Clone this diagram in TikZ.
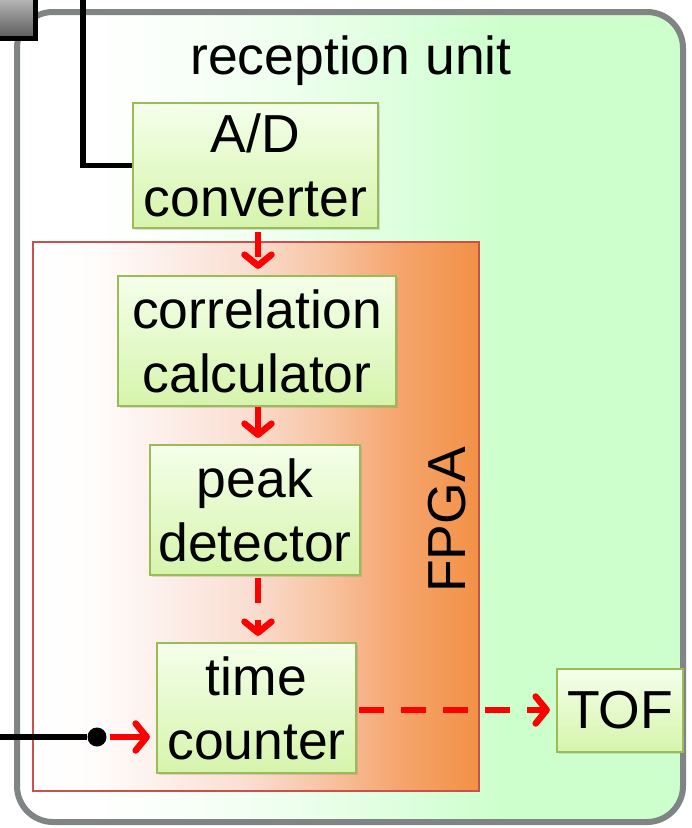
\documentclass[tikz,border=0pt]{standalone}
\usepackage{fontspec}
\setmainfont{Liberation Sans}
\usetikzlibrary{arrows.meta,shadows}
\definecolor{unitgreen}{RGB}{204,255,204}
\definecolor{unitgray}{RGB}{128,132,132}
\definecolor{boxtop}{RGB}{244,255,234}
\definecolor{boxbot}{RGB}{214,244,172}
\definecolor{boxedge}{RGB}{155,187,89}
\definecolor{fpgaedge}{RGB}{200,80,77}
\definecolor{fpgapink}{RGB}{250,222,210}
\definecolor{fpgamid}{RGB}{247,195,160}
\definecolor{fpgaor}{RGB}{245,165,110}
\definecolor{fpgaor2}{RGB}{242,145,70}
\definecolor{grayboxb}{RGB}{90,90,90}
\pgfdeclarehorizontalshading{fpgashade}{100bp}{color(0bp)=(white); color(25bp)=(white); color(32bp)=(white!93!fpgapink); color(49bp)=(fpgapink); color(58bp)=(fpgamid); color(66bp)=(fpgaor); color(75bp)=(fpgaor2); color(100bp)=(fpgaor2)}
\pgfdeclarehorizontalshading{unitshade}{100bp}{color(0bp)=(white); color(25bp)=(white); color(34bp)=(white!96!unitgreen); color(46bp)=(white!65!unitgreen); color(62bp)=(unitgreen); color(100bp)=(unitgreen)}
\tikzset{
  bigfont/.style={font=\fontsize{53.5}{64}\selectfont},
  box/.style={bigfont, draw=boxedge, line width=2.2pt, top color=boxtop, bottom color=boxbot,
    align=center, inner sep=0pt, drop shadow={opacity=0.25, shadow xshift=2pt, shadow yshift=-2pt}},
  redarr/.style={draw=red, line width=6.5pt, -{Straight Barb[length=11pt,width=27pt,round]}},
  reddash/.style={redarr, dash pattern=on 25pt off 17pt},
  blk/.style={draw=black, line width=5.5pt},
}
\begin{document}
\begin{tikzpicture}[x=1pt,y=-1pt]
\useasboundingbox (0,0) rectangle (692,828);
% outer reception unit
\node[draw=unitgray, line width=6pt, rounded corners=36pt, shading=unitshade,
  minimum width=666pt, minimum height=810pt, inner sep=0pt] (unit) at (350,417) {};
\node[bigfont, anchor=base] (title) at (351,74) {reception unit};
% top-left gray box
\node[draw=black, line width=5pt, top color=white, bottom color=grayboxb, minimum width=80pt, minimum height=70pt, inner sep=0pt] (grayb) at (-5,3) {};
% FPGA
\node[draw=fpgaedge, line width=2pt, shading=fpgashade, minimum width=446pt, minimum height=549pt, inner sep=0pt] (fpga) at (256,516.5) {};
\node[bigfont, rotate=90] (fpgalbl) at (447,520) {FPGA};
% boxes
\node[box, minimum width=245pt, minimum height=125pt] (ad) at (255.5,165.5) {A/D\\converter};
\node[box, minimum width=278pt, minimum height=130pt] (corr) at (257,341) {correlation\\calculator};
\node[box, minimum width=210pt, minimum height=130pt] (peak) at (255,510) {peak\\detector};
\node[box, minimum width=199pt, minimum height=130pt] (time) at (256.5,708) {time\\counter};
\node[box, minimum width=126pt, minimum height=83pt] (tof) at (620,710.5) {TOF};
% black input lines
\coordinate (topin) at (83,-5);
\draw[blk] (topin) |- (ad.west);
\coordinate (leftin) at (-5,737);
\node[circle, fill=black, inner sep=0pt, minimum size=19pt] (dot) at (97,737) {};
\draw[blk] (leftin) -- (dot);
\draw[redarr, shorten <=3pt, shorten >=6pt] (dot) -- (time.west |- dot);
% red arrows
\draw[reddash, shorten <=3pt, shorten >=6pt] (ad.south -| 258,0) -- (corr.north -| 258,0);
\draw[redarr, shorten >=6pt] (corr.south -| 258,0) -- (peak.north -| 258,0);
\draw[reddash, shorten <=2pt, shorten >=6pt] (peak.south -| 258,0) -- (time.north -| 258,0);
\draw[reddash, shorten <=2pt, shorten >=6pt] (time.east |- 0,710) -- (tof.west |- 0,710);
\end{tikzpicture}
\end{document}
